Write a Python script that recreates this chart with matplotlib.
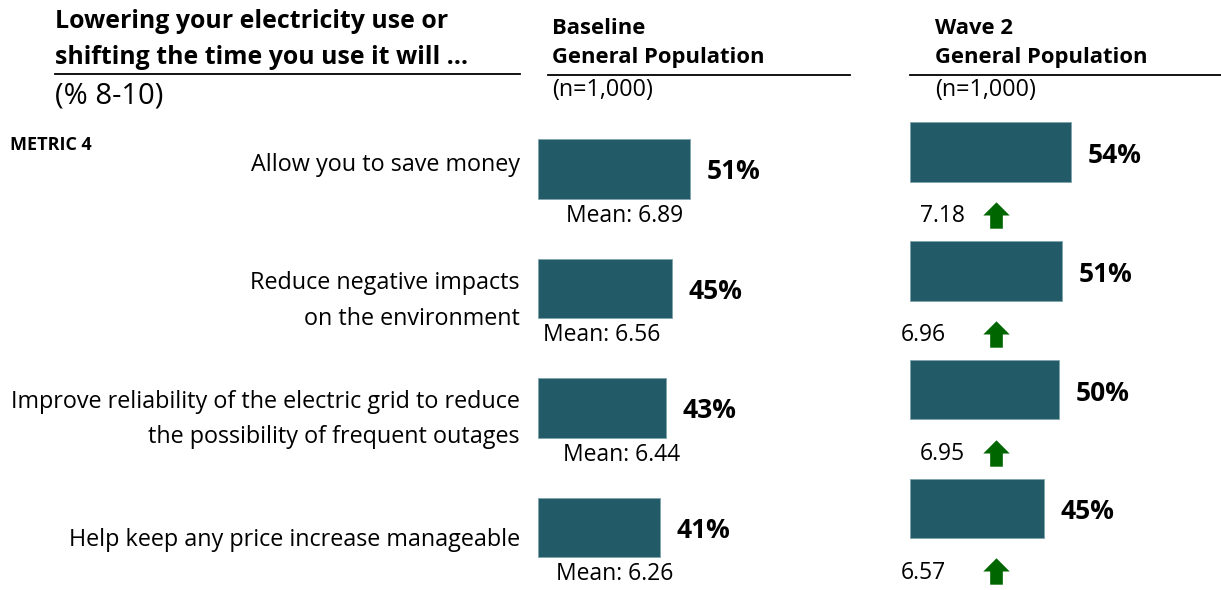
import matplotlib
matplotlib.use("Agg")
import matplotlib.pyplot as plt
from matplotlib.path import Path

plt.rcParams['font.family'] = ['Open Sans', 'DejaVu Sans']

# data
items = ["Allow you to save money",
         "Reduce negative impacts\non the environment",
         "Improve reliability of the electric grid to reduce\nthe possibility of frequent outages",
         "Help keep any price increase manageable"]
baseline_pct = [51, 45, 43, 41]
baseline_mean = [6.89, 6.56, 6.44, 6.26]
wave2_pct = [54, 51, 50, 45]
wave2_mean = [7.18, 6.96, 6.95, 6.57]
wave2_up = [True, True, True, True]

BAR = "#235A68"
GREEN = "#006600"
W, H = 1221, 590

fig = plt.figure(figsize=(W / 100, H / 100), dpi=100)


def px(x, y):
    return x / W, 1 - y / H


def ftext(x, y, s, **kw):
    fig.text(*px(x, y), s, **kw)


def hline(x0, x1, y, lw=1.3):
    fig.add_artist(plt.Line2D([x0 / W, x1 / W], [1 - y / H, 1 - y / H], color="black", lw=lw))


# titles
ftext(55, 21, "Lowering your electricity use or", fontsize=17.9, fontweight="bold", va="center")
ftext(55, 58, "shifting the time you use it will \u2026", fontsize=17.9, fontweight="bold", va="center")
hline(55, 520, 74)
ftext(55, 96, "(% 8-10)", fontsize=21, va="center")

ftext(552, 28, "Baseline", fontsize=15.8, fontweight="bold", va="center")
ftext(552, 58, "General Population", fontsize=15.8, fontweight="bold", va="center")
hline(548, 850, 75)
ftext(552, 90, "(n=1,000)", fontsize=16.8, va="center")

ftext(935, 28, "Wave 2", fontsize=15.8, fontweight="bold", va="center")
ftext(935, 58, "General Population", fontsize=15.8, fontweight="bold", va="center")
hline(910, 1221, 75)
ftext(935, 90, "(n=1,000)", fontsize=16.8, va="center")

ftext(10, 145, "METRIC 4", fontsize=13, fontweight="bold", va="center")

# row labels
label_y = [165, 301, 419.5, 540]
for lab, y in zip(items, label_y):
    ftext(520, y, lab, fontsize=16.8, ha="right", va="center", linespacing=1.65)

# axes: 1 % = ~2.98 px
def make_ax(x0, top, step):
    width = 100 * 2.98
    bottom = top + 4 * step
    ax = fig.add_axes([x0 / W, 1 - bottom / H, width / W, (bottom - top) / H])
    ax.set_xlim(0, 100)
    ax.set_ylim(3.5, -0.5)
    ax.axis("off")
    return ax


ax1 = make_ax(538, 169 - 59.75, 119.5)
ax2 = make_ax(910, 152 - 59.4, 118.8)

rows = range(len(items))
ax1.barh(list(rows), baseline_pct, height=0.5, color=BAR, edgecolor="#7FA3AC", linewidth=0.6)
ax2.barh(list(rows), wave2_pct, height=0.5, color=BAR, edgecolor="#7FA3AC", linewidth=0.6)

for i, v in enumerate(baseline_pct):
    ax1.text(v + 5.5, i + 0.025, f"{v}%", fontsize=19, fontweight="bold", va="center", ha="left")
for i, v in enumerate(wave2_pct):
    ax2.text(v + 5.5, i + 0.03, f"{v}%", fontsize=19, fontweight="bold", va="center", ha="left")

# mean labels (baseline) - centres shift a bit per row
base_mean_x = [28.9, 21.5, 28, 25.7]
for i, m in enumerate(baseline_mean):
    ax1.text(base_mean_x[i], i + 0.39, f"Mean: {m:.2f}", fontsize=16.5, ha="center", va="center")

# wave 2 means with arrow
w2_mean_x = [3.3, -3.0, 3.3, -3.0]
arrow = Path([(-0.5, 0.0), (0, 0.5), (0.5, 0.0), (0.24, 0.0), (0.24, -0.5),
              (-0.24, -0.5), (-0.24, 0.0), (-0.5, 0.0)],
             [Path.MOVETO] + [Path.LINETO] * 6 + [Path.CLOSEPOLY])
for i, m in enumerate(wave2_mean):
    ax2.text(w2_mean_x[i], i + 0.54, f"{m:.2f}", fontsize=16.5, ha="left", va="center")
    if wave2_up[i]:
        ax2.plot(29, i + 0.53, marker=arrow, markersize=19, color=GREEN,
                 markeredgewidth=0, clip_on=False)

fig.savefig("out.png", dpi=100)
